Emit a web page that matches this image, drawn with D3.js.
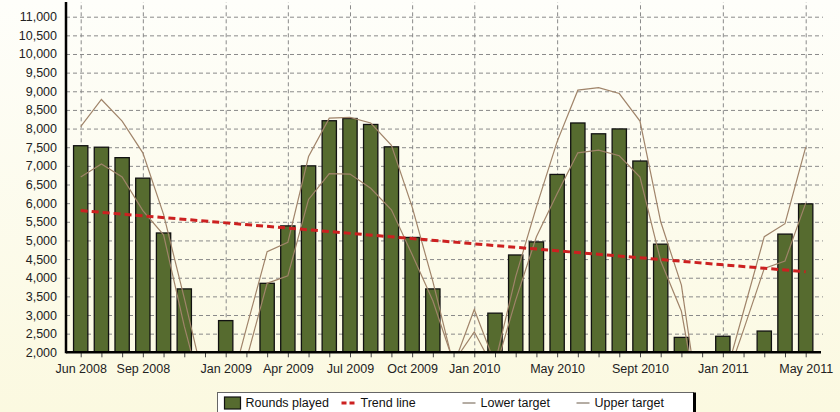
<!DOCTYPE html>
<html>
<head>
<meta charset="utf-8">
<script src="https://cdn.jsdelivr.net/npm/d3@7"></script>
<style>
  body { margin: 0; background: #fdfdf0; }
  svg { display: block; font-family: "Liberation Sans", Arial, sans-serif; }
</style>
</head>
<body>
<div id="chart"></div>
<script>
// monthly categories, Jun 2008 .. May 2011
const months = ["Jun 2008","Jul 2008","Aug 2008","Sep 2008","Oct 2008","Nov 2008","Dec 2008",
    "Jan 2009","Feb 2009","Mar 2009","Apr 2009","May 2009","Jun 2009","Jul 2009","Aug 2009","Sep 2009",
    "Oct 2009","Nov 2009","Dec 2009","Jan 2010","Feb 2010","Mar 2010","Apr 2010","May 2010","Jun 2010",
    "Jul 2010","Aug 2010","Sept 2010","Oct 2010","Nov 2010","Dec 2010","Jan 2011","Feb 2011","Mar 2011",
    "Apr 2011","May 2011"];

// months that carry a label + vertical grid line
const tickMonths = ["Jun 2008","Sep 2008","Jan 2009","Apr 2009","Jul 2009","Oct 2009",
    "Jan 2010","May 2010","Sept 2010","Jan 2011","May 2011"];

const yTicks = [2000,2500,3000,3500,4000,4500,5000,5500,6000,6500,7000,7500,8000,8500,9000,9500,10000,10500,11000];

// null = below the 2,000 floor of the axis, no bar visible
const rounds = [7540,7500,7220,6670,5200,3700,null,2850,null,3850,5390,7000,8210,8270,8110,7510,
    5080,3700,null,null,3050,4610,4960,6770,8150,7860,7990,7130,4900,2400,null,2430,null,2570,5170,5980];

const lowerTarget = [6700,7050,6700,5800,5150,2700,600,300,1800,3850,4050,6100,6790,6780,6400,5820,
    4620,3380,1730,2550,1500,3400,5100,6250,7350,7420,7270,6700,4450,3100,0,1000,2600,4250,4450,6000];

const upperTarget = [8050,8780,8200,7350,5700,3450,1100,550,2650,4700,4950,7250,8280,8300,8150,7550,
    5900,3900,1650,3150,1700,4030,5900,7650,9030,9100,8940,8200,5500,3800,0,1100,3100,5100,5450,7500];

// trend line, value at first and last month
const trendEnds = [5800, 4160];

const seriesNames = ["Rounds played", "Trend line", "Lower target", "Upper target"];

const WIDTH = 840, HEIGHT = 412;
const plot = {left: 66, right: 821, top: 2, bottom: 352.3};
const barColor = "#566b2f", targetColor = "#a0846a", trendColor = "#cc2020";

let svg = d3.select("#chart").append("svg")
    .attr("width", WIDTH)
    .attr("height", HEIGHT);

// pale ivory background, slightly warmer at the bottom
let defs = svg.append("defs");
let grad = defs.append("linearGradient").attr("id", "bg").attr("x1", 0).attr("y1", 0).attr("x2", 0).attr("y2", 1);
grad.append("stop").attr("offset", "0%").attr("stop-color", "#fefefa");
grad.append("stop").attr("offset", "100%").attr("stop-color", "#fbf9e0");
svg.append("rect").attr("width", WIDTH).attr("height", HEIGHT).attr("fill", "url(#bg)");

defs.append("clipPath").attr("id", "plotClip")
    .append("rect")
    .attr("x", plot.left).attr("y", 0)
    .attr("width", plot.right - plot.left).attr("height", plot.bottom);

let x = d3.scalePoint()
    .domain(months)
    .range([80.7, 805.7]);
let barWidth = x.step() * 0.69;

let y = d3.scaleLinear()
    .domain([2000, 11000])
    .range([plot.bottom, 16.7]);

// horizontal grid
let hGrid = svg.append("g")
    .attr("transform", `translate(${plot.left},0)`)
    .call(d3.axisLeft(y).tickValues(yTicks.slice(1)).tickSize(-(plot.right - plot.left + 2)).tickFormat(""));
hGrid.select(".domain").remove();
hGrid.selectAll("line").attr("stroke", "#8a8a8a").attr("stroke-dasharray", "4,3");

// vertical grid at labelled months
let vGrid = svg.append("g")
    .attr("transform", `translate(0,${plot.bottom})`)
    .call(d3.axisBottom(x).tickValues(tickMonths).tickSize(-(plot.bottom - plot.top)).tickFormat(""));
vGrid.select(".domain").remove();
vGrid.selectAll("line").attr("stroke", "#8a8a8a").attr("stroke-dasharray", "4,3");

let plotArea = svg.append("g").attr("clip-path", "url(#plotClip)");

// bars
plotArea.selectAll("rect.bar")
    .data(rounds.map((v, i) => ({m: months[i], v: v})).filter(d => d.v != null && d.v > 2000))
    .enter()
    .append("rect")
    .attr("class", "bar")
    .attr("x", d => x(d.m) - barWidth / 2)
    .attr("y", d => y(d.v))
    .attr("width", barWidth)
    .attr("height", d => y(2000) - y(d.v))
    .attr("fill", barColor)
    .attr("stroke", "#111")
    .attr("stroke-width", 1.3);

// target lines
let line = d3.line()
    .x((d, i) => x(months[i]))
    .y(d => y(d));

plotArea.append("path")
    .datum(lowerTarget)
    .attr("d", line)
    .attr("fill", "none")
    .attr("stroke", targetColor)
    .attr("stroke-width", 1.2);

plotArea.append("path")
    .datum(upperTarget)
    .attr("d", line)
    .attr("fill", "none")
    .attr("stroke", targetColor)
    .attr("stroke-width", 1.2);

// trend line
plotArea.append("line")
    .attr("x1", x(months[0])).attr("y1", y(trendEnds[0]))
    .attr("x2", x(months[months.length - 1])).attr("y2", y(trendEnds[1]))
    .attr("stroke", trendColor)
    .attr("stroke-width", 3)
    .attr("stroke-dasharray", "7,4");

// month ticks under the axis
let minor = svg.append("g")
    .attr("transform", `translate(0,${plot.bottom})`)
    .call(d3.axisBottom(x).tickSize(5).tickFormat(""));
minor.select(".domain").remove();
minor.selectAll("line").attr("stroke", "#444");

// x labels
let xAxis = svg.append("g")
    .attr("transform", `translate(0,${plot.bottom})`)
    .call(d3.axisBottom(x).tickValues(tickMonths).tickSize(0).tickPadding(12));
xAxis.select(".domain").remove();
xAxis.selectAll("text").attr("font-size", 12.5).attr("fill", "#222").attr("font-family", null);

// y labels
let yAxis = svg.append("g")
    .attr("transform", `translate(${plot.left},0)`)
    .call(d3.axisLeft(y).tickValues(yTicks).tickSize(0).tickPadding(9).tickFormat(d3.format(",")));
yAxis.select(".domain").remove();
yAxis.selectAll("text").attr("font-size", 12.5).attr("fill", "#222").attr("font-family", null);

// axis lines
svg.append("line")
    .attr("x1", plot.left).attr("x2", plot.left)
    .attr("y1", plot.top).attr("y2", plot.bottom + 1)
    .attr("stroke", "#000").attr("stroke-width", 2.5);
svg.append("line")
    .attr("x1", plot.left).attr("x2", plot.right)
    .attr("y1", plot.bottom).attr("y2", plot.bottom)
    .attr("stroke", "#000").attr("stroke-width", 2.5);

// legend
let legend = svg.append("g").attr("transform", "translate(217.5,392.5)");
legend.append("rect")
    .attr("width", 476).attr("height", 26)
    .attr("fill", "#fff").attr("stroke", "#666").attr("stroke-width", 1);
legend.append("line")
    .attr("x1", 477).attr("x2", 477).attr("y1", 0).attr("y2", 26)
    .attr("stroke", "#000").attr("stroke-width", 3);

let legendX = [7, 122, 242, 356];
let legendItems = legend.selectAll("g.item")
    .data(seriesNames)
    .enter()
    .append("g")
    .attr("class", "item")
    .attr("transform", (d, i) => `translate(${legendX[i]},10)`);

legendItems.each(function(d, i) {
    let g = d3.select(this);
    if (i === 0) {
        g.append("rect").attr("x", 0).attr("y", -5.5).attr("width", 16).attr("height", 12)
            .attr("fill", barColor).attr("stroke", "#111").attr("stroke-width", 1.2);
    } else if (i === 1) {
        g.append("line").attr("x1", 2).attr("x2", 18).attr("y1", 0.5).attr("y2", 0.5)
            .attr("stroke", trendColor).attr("stroke-width", 3).attr("stroke-dasharray", "5,3");
    } else {
        g.append("line").attr("x1", 3).attr("x2", 16).attr("y1", 0.5).attr("y2", 0.5)
            .attr("stroke", "#6b5a48").attr("stroke-width", 1);
    }
    g.append("text")
        .attr("x", 21)
        .attr("y", 0.5)
        .attr("dy", "0.35em")
        .attr("font-size", 12.5)
        .attr("fill", "#111")
        .text(d);
});
</script>
</body>
</html>
